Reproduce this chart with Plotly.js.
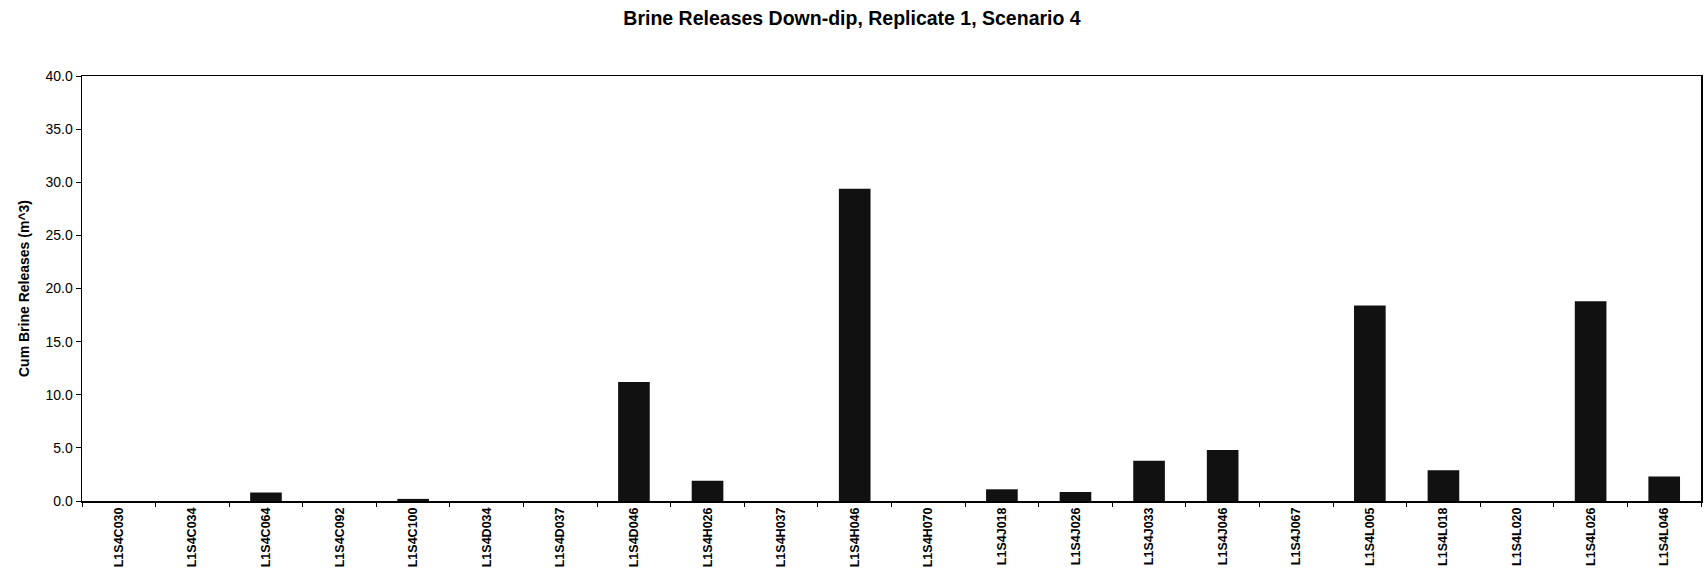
<!DOCTYPE html>
<html>
<head>
<meta charset="utf-8">
<script src="https://cdn.plot.ly/plotly-3.0.1.min.js"></script>
<style>html,body{margin:0;padding:0;background:#fff;}#chart{width:1704px;height:572px;}</style>
</head>
<body>
<div id="chart"></div>
<script>
const categories = ["L1S4C030","L1S4C034","L1S4C064","L1S4C092","L1S4C100","L1S4D034","L1S4D037","L1S4D046","L1S4H026","L1S4H037","L1S4H046","L1S4H070","L1S4J018","L1S4J026","L1S4J033","L1S4J046","L1S4J067","L1S4L005","L1S4L018","L1S4L020","L1S4L026","L1S4L046"];
const releases = [0, 0, 0.8, 0, 0.2, 0, 0, 11.2, 1.9, 0, 29.4, 0, 1.1, 0.85, 3.8, 4.8, 0, 18.4, 2.9, 0, 18.8, 2.3];
const yTicks = [0, 5, 10, 15, 20, 25, 30, 35, 40];
const titleText = "Brine Releases Down-dip, Replicate 1, Scenario 4";
const yTitle = "Cum Brine Releases (m^3)";

const font = "Liberation Sans, Arial, sans-serif";
const xLabels = categories.map(c => "<b>" + c + "</b>");
Plotly.newPlot("chart", [{
  type: "bar",
  x: categories,
  y: releases,
  marker: {color: "#111111", line: {width: 0}},
  hoverinfo: "x+y"
}], {
  width: 1704, height: 572,
  margin: {l: 82, r: 3, t: 76, b: 71},
  paper_bgcolor: "#ffffff", plot_bgcolor: "#ffffff",
  bargap: 0.57,
  showlegend: false,
  font: {family: font, color: "#000"},
  title: {text: "<b>" + titleText + "</b>", font: {family: font, size: 19.5, color: "#000"},
          xref: "container", x: 0.5, xanchor: "center", yref: "container", y: 1 - 18/572, yanchor: "middle"},
  xaxis: {
    type: "category",
    tickmode: "array",
    tickvals: categories,
    ticktext: xLabels,
    tickangle: -90,
    tickfont: {family: font, size: 12.5, color: "#000"},
    ticks: "outside", ticklen: 4, tickcolor: "#000", tickson: "boundaries",
    showline: true, linecolor: "#000", linewidth: 1.5, mirror: true,
    showgrid: false, zeroline: false
  },
  yaxis: {
    range: [0, 40],
    tickvals: yTicks,
    tickformat: ".1f",
    tickfont: {family: font, size: 14, color: "#000"},
    ticks: "outside", ticklen: 5, tickcolor: "#000",
    showline: true, linecolor: "#000", linewidth: 1.5, mirror: true,
    showgrid: false, zeroline: false,
    title: {text: "<b>" + yTitle + "</b>", font: {family: font, size: 14, color: "#000"}, standoff: 12}
  }
}, {staticPlot: true});
</script>
</body>
</html>
